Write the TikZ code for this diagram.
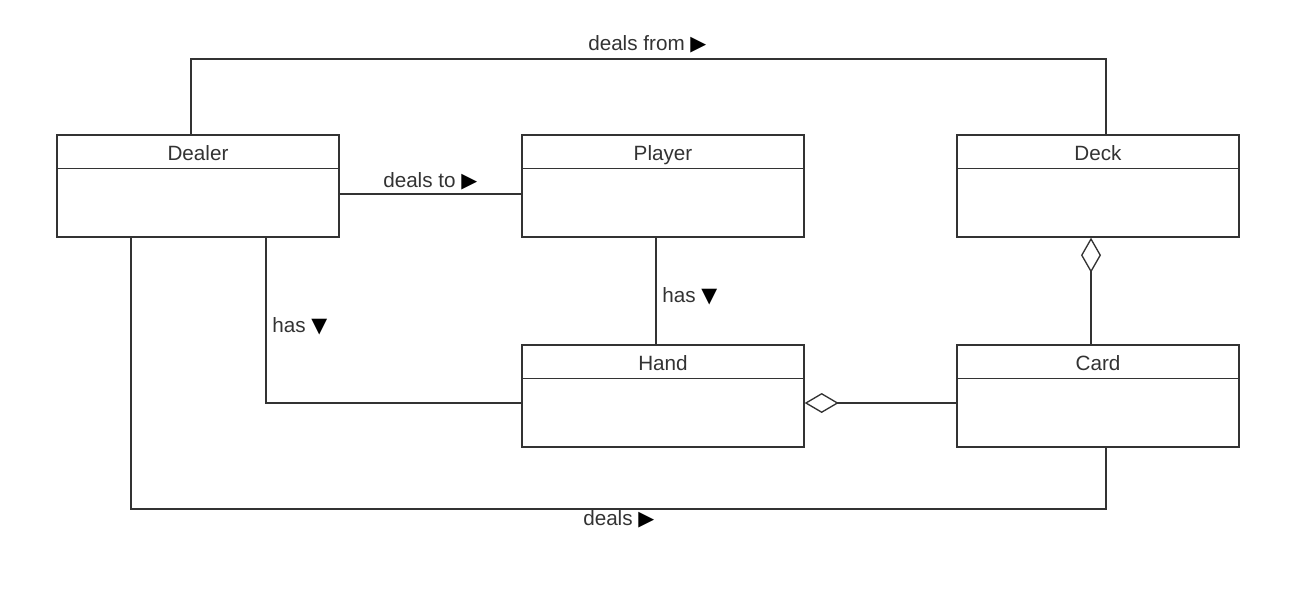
\documentclass[tikz,border=0pt]{standalone}
\usepackage{fontspec}
\setmainfont{Liberation Sans}
\newfontfamily\symf{DejaVu Sans}
\usetikzlibrary{arrows.meta}
\definecolor{ln}{HTML}{333333}
\definecolor{tx}{HTML}{333333}
\newcommand\tri[1]{{\symf\color{black}#1}}
\newcommand\umlclass[4]{%
  \node[cls] (#1) at (#2,#3) {};
  \node[clsname, anchor=base] (#1-name) at ([yshift=-19.5pt]#1.north) {#4};
  \draw[ln, line width=1pt] ([yshift=-25.5pt]#1.north west) -- ([yshift=-25.5pt]#1.north east);
}
\begin{document}
\begin{tikzpicture}[x=0.75pt,y=-0.75pt,
  cls/.style={draw=ln, line width=1pt, fill=white, rectangle, inner sep=0pt,
    minimum width=211.5pt, minimum height=76.5pt},
  clsname/.style={text=tx, font=\fontsize{15.5}{18}\selectfont, inner sep=0pt},
  conn/.style={draw=ln, line width=1pt},
  lbl/.style={text=tx, font=\fontsize{15.5}{18}\selectfont, inner sep=0pt, anchor=base west},
  agg/.style={-{Diamond[open, length=#1, width=15pt, line width=1pt]}},
]
\useasboundingbox (0,0) rectangle (1309,606);

\umlclass{dealer}{198}{186}{Dealer}
\umlclass{player}{663}{186}{Player}
\umlclass{deck}{1098}{186}{Deck}
\umlclass{hand}{663}{396}{Hand}
\umlclass{card}{1098}{396}{Card}

\coordinate (x131) at (131,0);
\coordinate (x191) at (191,0);
\coordinate (x266) at (266,0);
\coordinate (x656) at (656,0);
\coordinate (x1091) at (1091,0);
\coordinate (x1106) at (1106,0);
\coordinate (y194) at (0,194);
\coordinate (y403) at (0,403);
\coordinate (top) at (650,59);
\coordinate (bot) at (650,509);

% deals from
\draw[conn] (dealer.north -| x191) |- (top) -| (deck.north -| x1106);
% deals to
\draw[conn] (dealer.east |- y194) -- (player.west |- y194);
% has (dealer)
\draw[conn] (dealer.south -| x266) |- (hand.west |- y403);
% has (player)
\draw[conn] (player.south -| x656) -- (hand.north -| x656);
% deck - card aggregation
\draw[conn, agg=26.25pt] (card.north -| x1091) -- (deck.south -| x1091);
% hand - card aggregation
\draw[conn, agg=25.5pt] (card.west |- y403) -- (hand.east |- y403);
% deals
\draw[conn] (dealer.south -| x131) |- (bot) -| (card.south -| x1106);

\node[lbl] (l1) at (588,51) {deals from \tri{▶}};
\node[lbl] (l2) at (383,187) {deals to \tri{▶}};
\node[lbl] (l3) at (272,332) {has \tri{▼}};
\node[lbl] (l4) at (662,302) {has \tri{▼}};
\node[lbl] (l5) at (583,525) {deals \tri{▶}};
\end{tikzpicture}
\end{document}
